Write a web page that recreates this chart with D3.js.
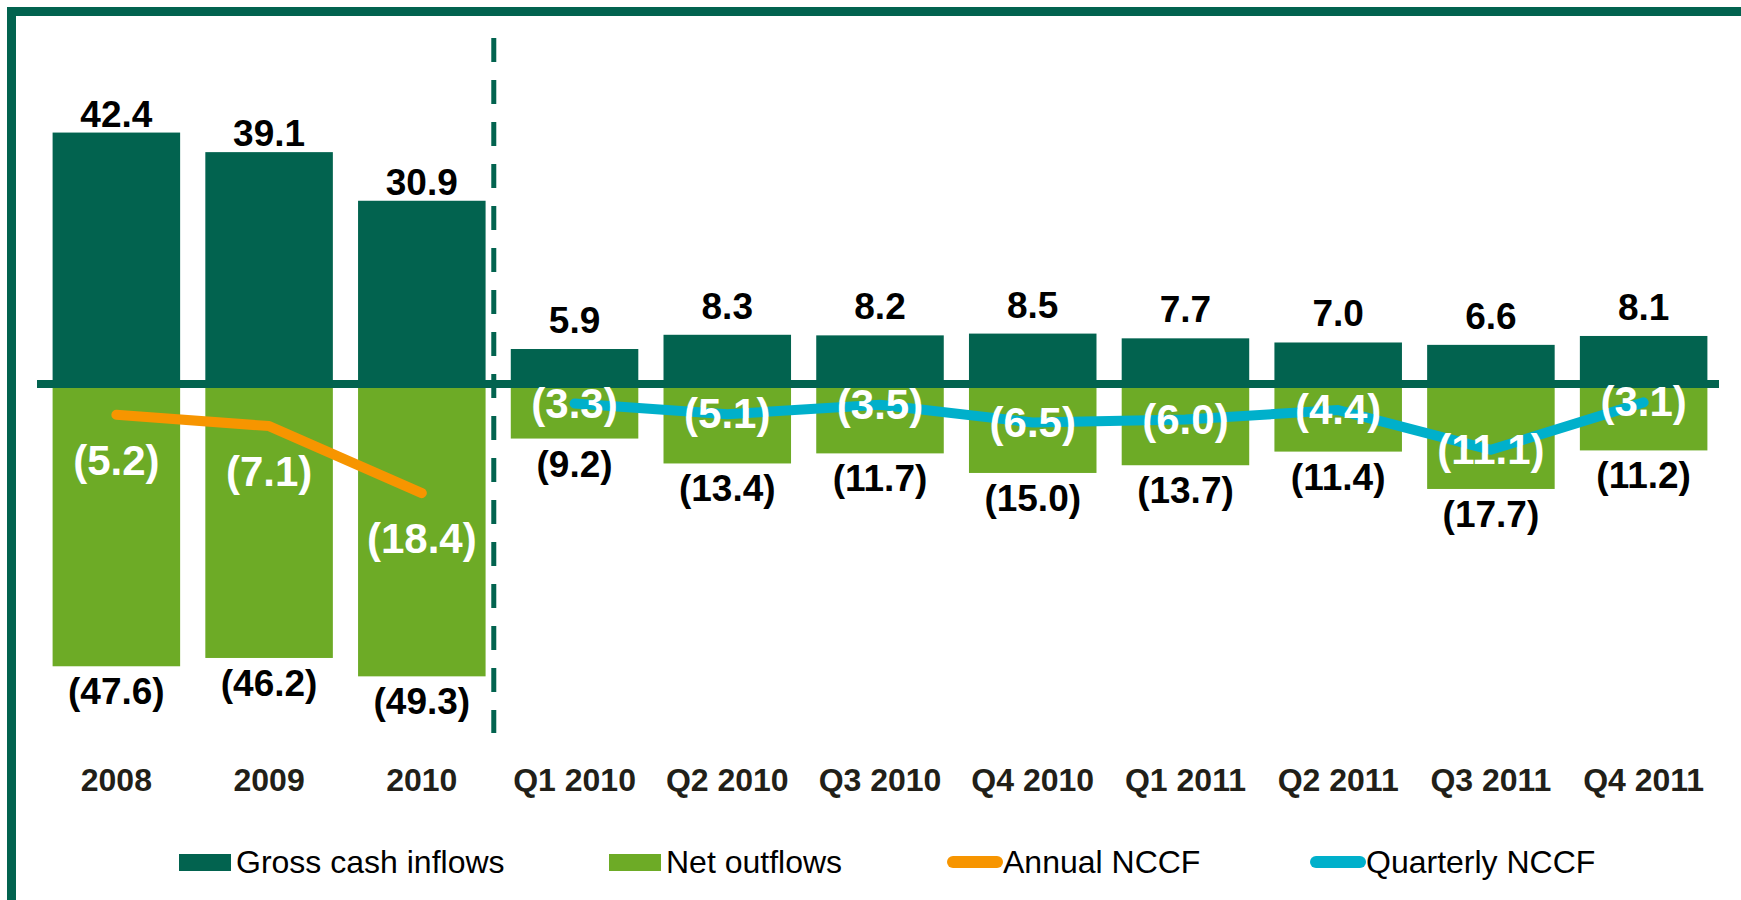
<!DOCTYPE html>
<html>
<head>
<meta charset="utf-8">
<script src="https://cdn.jsdelivr.net/npm/d3@7"></script>
<style>
  body { margin: 0; background: #fff; }
  svg { display: block; font-family: "Liberation Sans", Arial, sans-serif; }
</style>
</head>
<body>
<div id="chart"></div>
<script>
// periods: 3 annual then 8 quarterly
const periods = ["2008", "2009", "2010", "Q1 2010", "Q2 2010", "Q3 2010", "Q4 2010",
                 "Q1 2011", "Q2 2011", "Q3 2011", "Q4 2011"];
const annualPeriods = ["2008", "2009", "2010"];
const quarterPeriods = ["Q1 2010", "Q2 2010", "Q3 2010", "Q4 2010", "Q1 2011", "Q2 2011", "Q3 2011", "Q4 2011"];

const grossInflows = [42.4, 39.1, 30.9, 5.9, 8.3, 8.2, 8.5, 7.7, 7.0, 6.6, 8.1];
const netOutflows  = [-47.6, -46.2, -49.3, -9.2, -13.4, -11.7, -15.0, -13.7, -11.4, -17.7, -11.2];
const annualNCCF    = [-5.2, -7.1, -18.4];
const quarterlyNCCF = [-3.3, -5.1, -3.5, -6.5, -6.0, -4.4, -11.1, -3.1];

const legendNames = ["Gross cash inflows", "Net outflows", "Annual NCCF", "Quarterly NCCF"];

const colors = {
  gross: "#02634f",
  net: "#6dab26",
  annual: "#f79500",
  quarterly: "#00b0cb",
  axisText: "#221f18"
};

const fmt = v => v < 0 ? `(${Math.abs(v).toFixed(1)})` : v.toFixed(1);

const width = 1741;
const height = 900;

const svg = d3.select("#chart")
  .append("svg")
    .attr("width", width)
    .attr("height", height);

const x = d3.scaleBand()
  .domain(periods)
  .range([40, 1720])
  .paddingInner(0.165)
  .paddingOuter(0.0825);

const y = d3.scaleLinear()
  .domain([-50, 50])
  .range([680.5, 87.5]);

const isAnnual = p => annualPeriods.includes(p);
const rows = periods.map((p, i) => ({ p, gross: grossInflows[i], net: netOutflows[i] }));

// frame (open on right and bottom)
svg.append("path")
  .attr("d", `M11.5,${height} L11.5,11.5 L${width},11.5`)
  .attr("fill", "none")
  .attr("stroke", colors.gross)
  .attr("stroke-width", 9);

// bars
svg.append("g").selectAll("rect")
  .data(rows)
  .join("rect")
    .attr("x", d => x(d.p))
    .attr("width", x.bandwidth())
    .attr("y", d => y(d.gross))
    .attr("height", d => y(0) - y(d.gross))
    .attr("fill", colors.gross);

svg.append("g").selectAll("rect")
  .data(rows)
  .join("rect")
    .attr("x", d => x(d.p))
    .attr("width", x.bandwidth())
    .attr("y", y(0))
    .attr("height", d => y(d.net) - y(0))
    .attr("fill", colors.net);

// annual / quarterly divider
const divX = x("Q1 2010") - 17;
svg.append("line")
  .attr("x1", divX).attr("x2", divX)
  .attr("y1", 38).attr("y2", 733)
  .attr("stroke", colors.gross)
  .attr("stroke-width", 5)
  .attr("stroke-dasharray", "24 18");

// zero line
svg.append("line")
  .attr("x1", 37).attr("x2", 1719)
  .attr("y1", y(0)).attr("y2", y(0))
  .attr("stroke", colors.gross)
  .attr("stroke-width", 8);

// NCCF lines
const cx = p => x(p) + x.bandwidth() / 2;
const lineGen = d3.line().x(d => cx(d.p)).y(d => y(d.v));
const annualData = annualPeriods.map((p, i) => ({ p, v: annualNCCF[i] }));
const quarterData = quarterPeriods.map((p, i) => ({ p, v: quarterlyNCCF[i] }));

svg.append("path")
  .datum(annualData)
  .attr("d", lineGen)
  .attr("fill", "none")
  .attr("stroke", colors.annual)
  .attr("stroke-width", 10)
  .attr("stroke-linecap", "round")
  .attr("stroke-linejoin", "round");

svg.append("path")
  .datum(quarterData)
  .attr("d", lineGen)
  .attr("fill", "none")
  .attr("stroke", colors.quarterly)
  .attr("stroke-width", 10)
  .attr("stroke-linecap", "round")
  .attr("stroke-linejoin", "round");

// value labels
const labels = svg.append("g")
  .attr("text-anchor", "middle")
  .attr("font-weight", "bold");

labels.selectAll("text.gross")
  .data(rows)
  .join("text")
    .attr("class", "gross")
    .attr("x", d => cx(d.p))
    .attr("y", d => y(d.gross) - (isAnnual(d.p) ? 6 : 16))
    .attr("font-size", 37)
    .attr("fill", "#000")
    .text(d => fmt(d.gross));

labels.selectAll("text.net")
  .data(rows)
  .join("text")
    .attr("class", "net")
    .attr("x", d => cx(d.p))
    .attr("y", d => y(d.net) + 38)
    .attr("font-size", 37)
    .attr("fill", "#000")
    .text(d => fmt(d.net));

labels.selectAll("text.nccf")
  .data(annualData.map(d => ({ ...d, a: true })).concat(quarterData))
  .join("text")
    .attr("class", "nccf")
    .attr("x", d => cx(d.p))
    .attr("y", d => y(d.v) + (d.a ? 60 : 14))
    .attr("font-size", 42)
    .attr("fill", "#fff")
    .text(d => fmt(d.v));

// category axis
const xAxis = svg.append("g")
  .attr("transform", "translate(0,791)")
  .call(d3.axisBottom(x).tickSize(0).tickPadding(0));
xAxis.select(".domain").remove();
xAxis.selectAll("text")
  .attr("y", 0)
  .attr("dy", 0)
  .attr("font-size", 32)
  .attr("font-weight", "bold")
  .attr("font-family", "Liberation Sans, Arial, sans-serif")
  .attr("fill", colors.axisText);

// legend
const legendX = [179, 609, 947, 1310];
const legendKind = ["rect", "rect", "line", "line"];
const legendColor = [colors.gross, colors.net, colors.annual, colors.quarterly];
const legend = svg.append("g");
legendNames.forEach((name, i) => {
  const g = legend.append("g").attr("transform", `translate(${legendX[i]},0)`);
  let tx;
  if (legendKind[i] === "rect") {
    g.append("rect")
      .attr("x", 0).attr("y", 854)
      .attr("width", 52).attr("height", 17)
      .attr("fill", legendColor[i]);
    tx = 57;
  } else {
    g.append("line")
      .attr("x1", 6).attr("x2", 50)
      .attr("y1", 862).attr("y2", 862)
      .attr("stroke", legendColor[i])
      .attr("stroke-width", 12)
      .attr("stroke-linecap", "round");
    tx = 56;
  }
  g.append("text")
    .attr("x", tx).attr("y", 873)
    .attr("font-size", 32)
    .attr("fill", "#000")
    .text(name);
});
</script>
</body>
</html>
